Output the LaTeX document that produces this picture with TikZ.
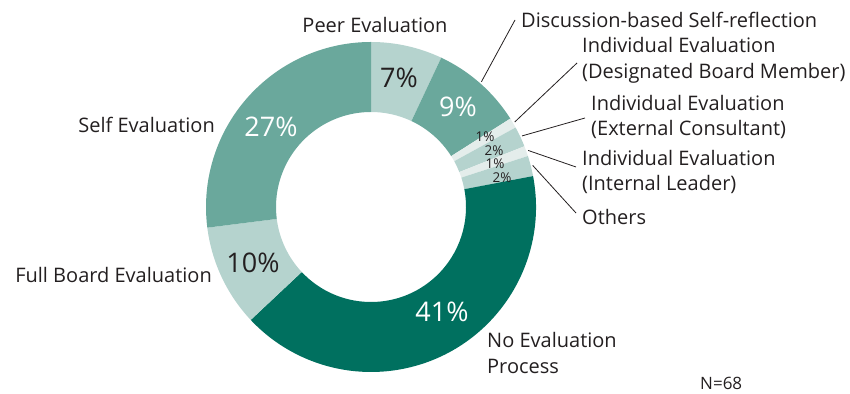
\documentclass[tikz,border=0pt]{standalone}
\usepackage{fontspec}
\setmainfont{Open Sans}
\usetikzlibrary{positioning}
\definecolor{tealdark}{HTML}{00705F}
\definecolor{tealmid}{HTML}{6AA89C}
\definecolor{teallight}{HTML}{B5D3CE}
\definecolor{tealpale}{HTML}{E4EDEB}
\definecolor{ink}{HTML}{231F20}
\tikzset{
  lbl/.style={text=ink,font=\fontsize{20}{25.5}\selectfont,inner sep=0pt,align=left},
  pct/.style={font=\fontsize{27}{28}\selectfont,inner sep=0pt},
  pcts/.style={text=ink,font=\fontsize{13.5}{14}\selectfont,inner sep=0pt},
  lead/.style={ink,line width=0.8pt}
}
\begin{document}
\begin{tikzpicture}[x=1pt,y=1pt]
\useasboundingbox (0,0) rectangle (850,393);
\coordinate (O) at (371,186);
% ring segments, clockwise from the top
\foreach \a/\b/\c in {90/64.8/teallight,64.8/32.4/tealmid,32.4/28.8/tealpale,
  28.8/21.6/teallight,21.6/18/tealpale,18/10.8/teallight,10.8/-136.8/tealdark,
  -136.8/-172.8/teallight,-172.8/-270/tealmid}
  \fill[\c] ([shift={(\a:165)}]O) arc[start angle=\a,end angle=\b,radius=165]
    -- ([shift={(\b:95)}]O) arc[start angle=\b,end angle=\a,radius=95] -- cycle;
% percentages
\node[pct,text=ink] (p7) at (399,315) {7\%};
\node[pct,text=white] (p9) at (458,286) {9\%};
\node[pct,text=white] (p27) at (271,266) {27\%};
\node[pct,text=ink] (p10) at (253,130) {10\%};
\node[pct,text=white] (p41) at (442,81) {41\%};
\node[pcts] (q1) at (485,256) {1\%};
\node[pcts] (q2) at (494,242.5) {2\%};
\node[pcts] (q3) at (495,229.5) {1\%};
\node[pcts] (q4) at (502,215.5) {2\%};
% category labels
\node[lbl] (peer) at (375,368) {Peer Evaluation};
\node[lbl,anchor=west] (disc) at (521,373) {Discussion-based Self-reflection};
\node[lbl,anchor=west] (board) at (582,332.5) {Individual Evaluation\\(Designated Board Member)};
\node[lbl,anchor=west] (cons) at (591,276) {Individual Evaluation\\(External Consultant)};
\node[lbl,anchor=west] (lead) at (582,221) {Individual Evaluation\\(Internal Leader)};
\node[lbl,anchor=west] (oth) at (582,176) {Others};
\node[lbl,anchor=east] (self) at (215,268) {Self Evaluation};
\node[lbl,anchor=east] (full) at (212,118) {Full Board Evaluation};
\node[lbl,anchor=west] (none) at (487,40) {No Evaluation\\Process};
\node[lbl,anchor=west,font=\fontsize{17}{19}\selectfont] (n) at (700,10) {N=68};
% leader lines
\coordinate (d0) at ([shift={(48.6:167)}]O);
\coordinate (d1) at (515,373);
\coordinate (b0) at ([shift={(30.6:167)}]O);
\coordinate (b1) at (577,330);
\coordinate (c0) at ([shift={(25.2:167)}]O);
\coordinate (c1) at (585,275);
\coordinate (l0) at ([shift={(19.8:167)}]O);
\coordinate (l1) at (576,226);
\coordinate (o0) at ([shift={(14.4:167)}]O);
\coordinate (o1) at (576,180);
\draw[lead] (d0) -- (d1);
\draw[lead] (b0) -- (b1);
\draw[lead] (c0) -- (c1);
\draw[lead] (l0) -- (l1);
\draw[lead] (o0) -- (o1);
\end{tikzpicture}
\end{document}
